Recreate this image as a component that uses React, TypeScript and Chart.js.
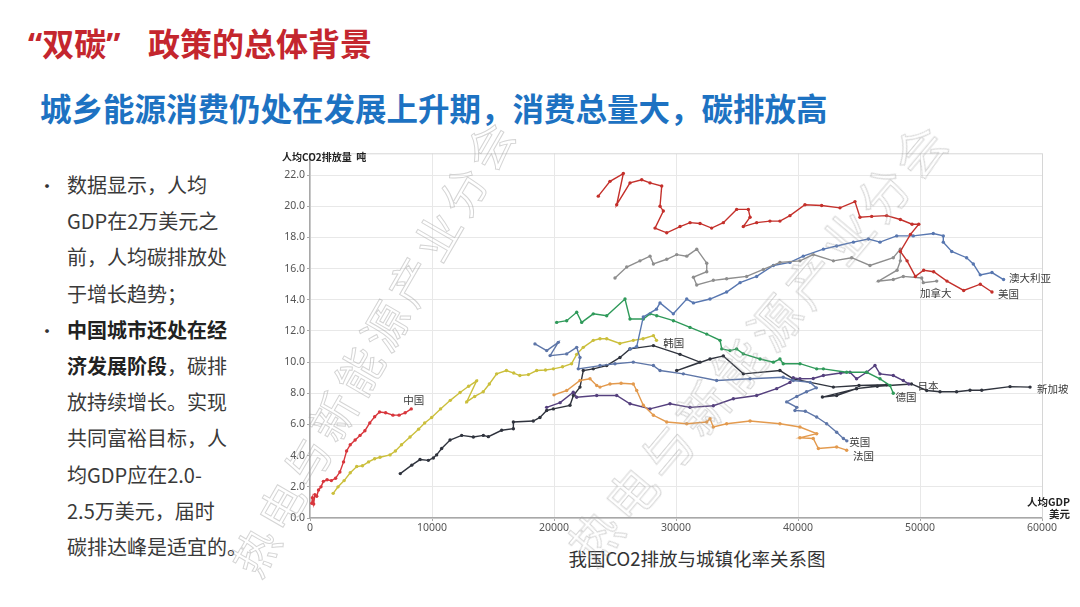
import React, { useEffect, useRef } from "react";
import { Chart, registerables } from "chart.js";

Chart.register(...registerables);

// ---------------- data (GDP per capita, USD / CO2 per capita, t) ----------------
const chinaGdp = [150, 200, 300, 400, 550, 700, 900, 1100, 1400, 1750, 2100, 2450, 2750, 3000, 3300, 3700, 4100, 4500, 4900, 5300, 5700, 6200, 6800, 7300, 7800, 8300];
const chinaCo2 = [0.95, 1.3, 0.9, 1.5, 1.4, 1.8, 2.0, 2.35, 2.45, 2.4, 2.55, 2.95, 3.6, 4.3, 4.7, 5.0, 5.3, 5.6, 6.1, 6.5, 6.8, 6.75, 6.6, 6.6, 6.75, 7.0];

const koreaGdp = [1900, 2300, 2800, 3300, 3830, 4300, 4800, 5300, 5740, 6560, 7000, 7500, 8200, 8900, 9400, 9970, 10700, 11500, 12300, 13000, 13660, 12840, 13500, 14200, 14700, 15300, 16100, 16700, 17200, 17900, 18580, 19300, 19950, 20700, 21440, 21860, 22400, 23220, 23770, 24320, 25400, 26500, 27300, 28150, 28400];
const koreaCo2 = [1.58, 2.0, 2.4, 2.9, 3.3, 3.35, 3.6, 3.8, 3.9, 4.05, 4.3, 4.7, 5.2, 5.7, 6.1, 6.45, 7.0, 7.55, 8.05, 8.45, 8.8, 7.45, 7.8, 8.1, 8.6, 9.25, 9.46, 9.3, 9.14, 9.2, 9.46, 9.5, 9.57, 9.7, 9.9, 10.5, 10.95, 11.4, 11.5, 11.5, 11.2, 11.4, 11.5, 11.7, 11.4];

const singaporeGdp = [7400, 8340, 9020, 9700, 10110, 10380, 10790, 11480, 12430, 13390, 14210, 14620, 15710, 16670, 16670, 18300, 18850, 19400, 19950, 21310, 21590, 22130, 22400, 23220, 24320, 25410, 26230, 28150, 30330, 31970, 30060, 32790, 33880, 35520, 38520, 39610, 42900, 45000, 47270, 44800, 42000, 43170, 44800, 46500, 49300, 50550, 51640, 53000, 54100, 55060, 57380, 59020];
const singaporeCo2 = [2.85, 3.39, 3.75, 3.7, 3.85, 4.05, 4.46, 5.0, 5.3, 5.2, 5.3, 5.22, 5.63, 5.73, 6.16, 6.22, 6.45, 6.9, 7.0, 7.23, 7.86, 8.4, 9.46, 9.57, 9.78, 10.3, 10.85, 11.06, 10.5, 10.0, 9.46, 10.2, 10.4, 9.25, 9.46, 8.93, 8.4, 8.5, 8.55, 8.3, 7.76, 7.86, 8.3, 8.45, 8.6, 8.18, 8.1, 8.1, 8.2, 8.2, 8.43, 8.4];

const usGdp = [23630, 24590, 25680, 25140, 26230, 27190, 27870, 28830, 28690, 28960, 28280, 29240, 30330, 31150, 31970, 32920, 33880, 34970, 35930, 36070, 35520, 36610, 37700, 38520, 39340, 40570, 41940, 43440, 44670, 45080, 46040, 47270, 48390, 49350, 49900, 49220, 48390, 48940, 49620, 50300, 51120, 52210, 53580, 54940, 55900];
const usCo2 = [20.65, 21.6, 22.1, 20.1, 21.5, 21.7, 21.5, 21.3, 20.0, 19.7, 18.6, 18.3, 18.7, 18.95, 18.9, 18.6, 18.95, 19.8, 19.8, 19.3, 18.7, 18.95, 19.05, 19.05, 19.4, 20.1, 20.05, 19.9, 20.3, 19.3, 19.35, 19.4, 19.15, 18.85, 18.85, 18.2, 17.1, 16.5, 15.5, 15.9, 15.8, 15.2, 14.6, 15.0, 14.5];

const canadaGdp = [25000, 25960, 27050, 27870, 28150, 29240, 30060, 30880, 31700, 32520, 32520, 31430, 31700, 33060, 34150, 35790, 37160, 38520, 40160, 41250, 42900, 44400, 45900, 47810, 48390, 48390, 48120, 46590, 47810, 48630, 50140, 50270, 51370];
const canadaCo2 = [15.4, 16.1, 16.5, 16.8, 16.3, 16.6, 16.9, 16.8, 17.25, 16.35, 15.8, 15.45, 14.95, 15.25, 15.35, 15.5, 15.95, 16.4, 16.5, 16.9, 16.5, 16.7, 16.2, 16.7, 17.25, 16.5, 15.9, 15.2, 15.3, 15.5, 15.4, 15.1, 15.2];

const australiaGdp = [26230, 26780, 27320, 28400, 28690, 29780, 30880, 31430, 32790, 34150, 35250, 36610, 37980, 39340, 40430, 42080, 43170, 44540, 45770, 46720, 48090, 49450, 51090, 51910, 51910, 52600, 53820, 54370, 54940, 55900, 56850];
const australiaCo2 = [10.85, 11.0, 12.9, 13.4, 13.8, 13.1, 14.05, 13.8, 14.05, 14.5, 15.1, 15.5, 16.2, 16.4, 16.8, 17.25, 17.45, 17.7, 17.9, 17.7, 18.1, 18.1, 18.25, 18.1, 17.7, 17.1, 16.7, 16.3, 15.6, 15.75, 15.3];

const germanyGdp = [20220, 21040, 21860, 22270, 23220, 24320, 25820, 26230, 27320, 27870, 28420, 29790, 31150, 32520, 33610, 33750, 34430, 34970, 35520, 36890, 37980, 38520, 38790, 40160, 41530, 42080, 43990, 45630, 46720, 47540, 47810];
const germanyCo2 = [12.55, 12.66, 13.2, 12.55, 13.1, 12.98, 14.05, 12.77, 12.77, 13.1, 12.98, 12.66, 12.23, 11.8, 11.4, 10.85, 10.74, 10.85, 10.53, 10.2, 10.0, 10.2, 9.9, 9.9, 9.57, 9.57, 9.35, 9.35, 8.93, 8.5, 8.0];

const ukGdp = [18440, 19400, 20350, 19680, 21040, 21860, 22130, 21990, 23770, 25000, 26500, 28150, 28690, 30600, 33330, 36070, 38790, 39610, 41000, 41500, 40700, 39900, 39070, 39900, 39750, 40600, 41530, 42350, 43170, 43720, 44000];
const ukCo2 = [11.17, 10.74, 11.27, 10.42, 10.53, 10.95, 10.3, 9.57, 9.78, 9.9, 10.0, 9.78, 9.46, 9.25, 8.82, 8.93, 9.03, 8.82, 8.7, 8.35, 8.1, 7.8, 7.45, 7.1, 6.9, 6.85, 6.48, 6.05, 5.5, 5.1, 4.95];

const franceGdp = [20000, 21040, 22130, 22950, 23500, 23770, 24590, 25500, 26500, 26780, 27320, 28150, 29240, 30880, 32520, 32790, 33060, 34150, 36070, 38520, 40160, 41530, 40160, 41250, 41670, 43170, 43990];
const franceCo2 = [7.9, 8.18, 8.82, 8.93, 8.5, 8.4, 8.6, 8.65, 8.6, 8.18, 7.23, 6.59, 6.16, 6.05, 6.16, 6.37, 5.84, 6.05, 6.22, 6.05, 5.84, 5.41, 5.15, 5.1, 4.46, 4.56, 4.35];

const japanGdp = [19400, 20500, 21580, 21860, 23500, 25140, 26230, 27870, 29510, 31150, 33060, 34700, 36610, 38250, 39340, 39610, 40160, 41250, 42080, 43500, 44260, 44800, 45630, 46310, 46720, 47810, 48630, 49080];
const japanCo2 = [7.1, 7.4, 8.07, 7.75, 7.86, 7.86, 7.33, 7.0, 7.33, 7.1, 7.2, 7.65, 7.86, 8.3, 8.7, 9.0, 8.93, 8.95, 9.14, 9.3, 9.35, 8.93, 9.35, 9.78, 9.25, 9.14, 8.82, 8.6];

// country name labels placed at data coordinates
const labelNames = ["中国", "韩国", "美国", "加拿大", "澳大利亚", "日本", "德国", "新加坡", "英国", "法国"];
const labelGdp = [7650, 28950, 56400, 50000, 57300, 49800, 48000, 59600, 44200, 44500];
const labelCo2 = [7.55, 11.2, 14.35, 14.45, 15.4, 8.5, 7.75, 8.3, 4.85, 4.0];

const xTickValues = [0, 10000, 20000, 30000, 40000, 50000, 60000];
const yTickStep = 2;

// ---------------- helpers ----------------
const zip = (xs: number[], ys: number[]) => xs.map((x, i) => ({ x, y: ys[i] }));

const series = [
  { name: "美国", gdp: usGdp, co2: usCo2, color: "#c4302b" },
  { name: "加拿大", gdp: canadaGdp, co2: canadaCo2, color: "#8e8e8e" },
  { name: "澳大利亚", gdp: australiaGdp, co2: australiaCo2, color: "#5877b0" },
  { name: "德国", gdp: germanyGdp, co2: germanyCo2, color: "#2f9a5a" },
  { name: "英国", gdp: ukGdp, co2: ukCo2, color: "#5e76a8" },
  { name: "法国", gdp: franceGdp, co2: franceCo2, color: "#e39a4e" },
  { name: "日本", gdp: japanGdp, co2: japanCo2, color: "#55407e" },
  { name: "韩国", gdp: koreaGdp, co2: koreaCo2, color: "#cbbf3c" },
  { name: "新加坡", gdp: singaporeGdp, co2: singaporeCo2, color: "#30343e" },
  { name: "中国", gdp: chinaGdp, co2: chinaCo2, color: "#d8363c" },
];

const overlayPlugin = {
  id: "overlay",
  beforeDatasetsDraw(chart: any) {
    const { ctx, chartArea } = chart;
    ctx.save();
    ctx.strokeStyle = "#d6d6d6";
    ctx.lineWidth = 1;
    ctx.beginPath();
    ctx.moveTo(chartArea.left, chartArea.top + 0.5);
    ctx.lineTo(chartArea.right + 0.5, chartArea.top + 0.5);
    ctx.lineTo(chartArea.right + 0.5, chartArea.bottom);
    ctx.stroke();
    ctx.restore();
  },
  afterDatasetsDraw(chart: any) {
    const { ctx, scales } = chart;
    ctx.save();
    ctx.font = '10.5px "Noto Sans CJK SC", sans-serif';
    ctx.fillStyle = "#3a3a3a";
    ctx.textAlign = "left";
    ctx.textBaseline = "middle";
    labelNames.forEach((n, i) => {
      ctx.fillText(n, scales.x.getPixelForValue(labelGdp[i]), scales.y.getPixelForValue(labelCo2[i]));
    });
    ctx.restore();
  },
};

function ChartCanvas() {
  const ref = useRef<HTMLCanvasElement>(null);
  useEffect(() => {
    if (!ref.current) return;
    Chart.defaults.font.family = '"Noto Sans", "Noto Sans CJK SC", sans-serif';
    const chart = new Chart(ref.current, {
      type: "scatter",
      data: {
        datasets: series.map((s) => ({
          label: s.name,
          data: zip(s.gdp, s.co2),
          showLine: true,
          borderColor: s.color,
          backgroundColor: s.color,
          borderWidth: 1.4,
          pointRadius: 1.7,
          pointBorderWidth: 0,
          pointBackgroundColor: s.color,
          tension: 0,
        })),
      },
      options: {
        animation: false,
        responsive: false,
        layout: { padding: { top: 7, right: 38, left: 0, bottom: 0 } },
        plugins: { legend: { display: false }, tooltip: { enabled: false } },
        scales: {
          x: {
            type: "linear",
            min: 0,
            max: 60000,
            afterFit: (s: any) => {
              s.height = 27;
            },
            afterBuildTicks: (s: any) => {
              s.ticks = xTickValues.map((v) => ({ value: v }));
            },
            ticks: {
              color: "#555",
              font: { size: 10.5 },
              padding: 1,
              maxRotation: 0,
              callback: (v: any) => String(v),
            },
            grid: { color: "#e8e8e8", tickLength: 3, tickColor: "#aaa" },
            border: { color: "#a8a8a8", width: 1.5 },
          },
          y: {
            type: "linear",
            min: 0,
            max: 23.4,
            afterFit: (s: any) => {
              s.width = 35;
            },
            afterBuildTicks: (s: any) => {
              const t = [];
              for (let v = 0; v <= 22; v += yTickStep) t.push({ value: v });
              s.ticks = t;
            },
            ticks: {
              color: "#555",
              font: { size: 10.5 },
              padding: 2,
              callback: (v: any) => Number(v).toFixed(1),
            },
            grid: { color: "#e8e8e8", tickLength: 3, tickColor: "#aaa" },
            border: { color: "#a8a8a8", width: 1.5 },
          },
        },
      },
      plugins: [overlayPlugin],
    } as any);
    return () => chart.destroy();
  }, []);
  return (
    <canvas
      ref={ref}
      width={805}
      height={400}
      style={{ position: "absolute", left: 275, top: 145, width: 805, height: 400 }}
    />
  );
}

const cjk = '"Noto Sans CJK SC", "Noto Sans", sans-serif';

export default function App() {
  const textColor = "#3a3a3a";
  const lineStyle: React.CSSProperties = { height: 36.2, lineHeight: "36.2px", whiteSpace: "nowrap" };
  const wm: React.CSSProperties = {
    position: "absolute",
    fontFamily: cjk,
    fontSize: 46,
    letterSpacing: 6,
    color: "transparent",
    WebkitTextStroke: "1px rgba(160,160,160,0.45)",
    whiteSpace: "nowrap",
    pointerEvents: "none",
    transformOrigin: "center center",
  } as any;
  return (
    <div
      style={{
        position: "fixed",
        left: 0,
        top: 0,
        width: 1080,
        height: 607,
        background: "#ffffff",
        overflow: "hidden",
        fontFamily: cjk,
      }}
    >
      {/* title */}
      <div style={{ position: "absolute", left: 28, top: 24, fontSize: 32, lineHeight: "36px", fontWeight: 700, color: "#c4262e", whiteSpace: "nowrap" }}>
        <span style={{ fontFamily: '"Noto Sans", sans-serif' }}>“</span>双碳<span style={{ fontFamily: '"Noto Sans", sans-serif' }}>”</span>
      </div>
      <div style={{ position: "absolute", left: 148, top: 24, fontSize: 32, lineHeight: "36px", fontWeight: 700, color: "#c4262e", whiteSpace: "nowrap" }}>
        政策的总体背景
      </div>
      {/* subtitle */}
      <div style={{ position: "absolute", left: 40, top: 88, fontSize: 31.5, lineHeight: "38px", fontWeight: 700, color: "#1d72c2", whiteSpace: "nowrap" }}>
        城乡能源消费仍处在发展上升期，消费总量大，碳排放高
      </div>

      {/* left text */}
      <div style={{ position: "absolute", left: 67, top: 167, fontSize: 20, color: textColor }}>
        <div style={lineStyle}>数据显示，人均</div>
        <div style={lineStyle}>GDP在2万美元之</div>
        <div style={lineStyle}>前，人均碳排放处</div>
        <div style={lineStyle}>于增长趋势；</div>
        <div style={lineStyle}>
          <b style={{ color: "#222" }}>中国城市还处在经</b>
        </div>
        <div style={lineStyle}>
          <b style={{ color: "#222" }}>济发展阶段</b>，碳排
        </div>
        <div style={lineStyle}>放持续增长。实现</div>
        <div style={lineStyle}>共同富裕目标，人</div>
        <div style={lineStyle}>均GDP应在2.0-</div>
        <div style={lineStyle}>2.5万美元，届时</div>
        <div style={lineStyle}>碳排达峰是适宜的。</div>
      </div>
      <div style={{ position: "absolute", left: 38, top: 167, fontSize: 18, lineHeight: "36.2px", color: "#333" }}>•</div>
      <div style={{ position: "absolute", left: 38, top: 167 + 36.2 * 4, fontSize: 18, lineHeight: "36.2px", color: "#333" }}>•</div>

      {/* chart */}
      <ChartCanvas />
      <div style={{ position: "absolute", left: 282, top: 151, fontSize: 10, lineHeight: "12px", fontWeight: 700, color: "#222", whiteSpace: "nowrap" }}>
        人均CO2排放量&nbsp;&nbsp;吨
      </div>
      <div style={{ position: "absolute", left: 1000, width: 70, top: 496, fontSize: 10.5, lineHeight: "12px", fontWeight: 700, color: "#222", textAlign: "right", whiteSpace: "nowrap" }}>
        人均GDP
        <br />
        美元
      </div>
      <div style={{ position: "absolute", left: 497, width: 400, top: 546, fontSize: 18.5, lineHeight: "24px", color: "#333", textAlign: "center", whiteSpace: "nowrap" }}>
        我国CO2排放与城镇化率关系图
      </div>

      {/* watermark */}
      <div style={{ ...wm, left: 372, top: 345, transform: "translate(-50%,-50%) rotate(-60deg)" }}>热电与新能源产业分会</div>
      <div style={{ ...wm, left: 757, top: 340, transform: "translate(-50%,-50%) rotate(-50deg)", fontSize: 50 }}>热电与新能源产业分会</div>
    </div>
  );
}
